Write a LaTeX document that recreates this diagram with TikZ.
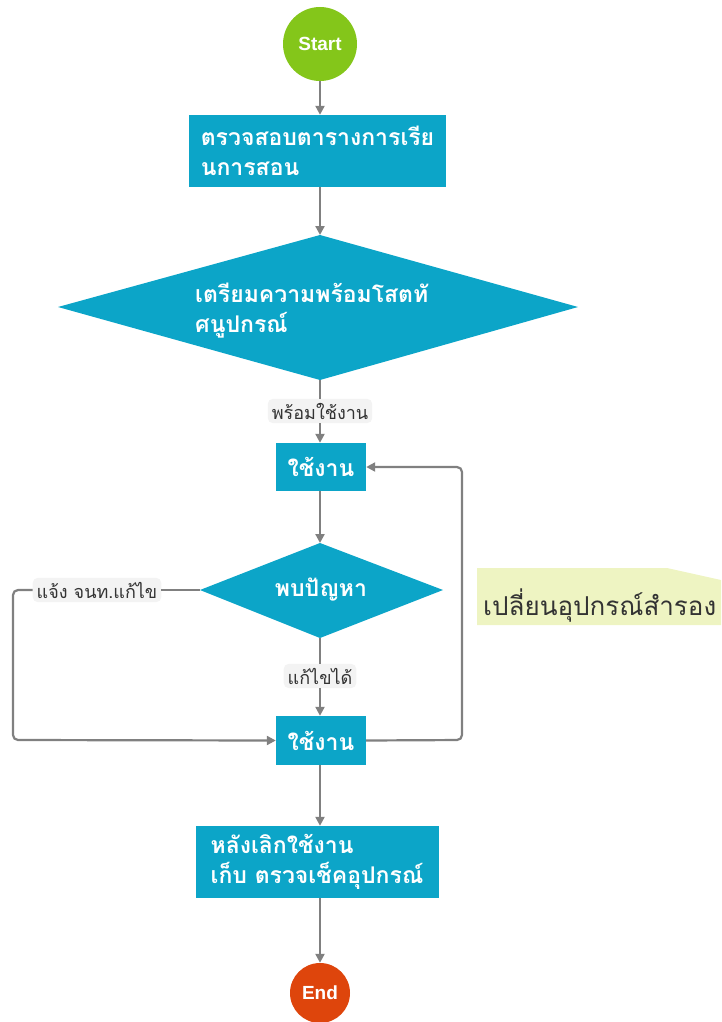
\documentclass[tikz,border=0pt]{standalone}
\usepackage{fontspec}
\usetikzlibrary{arrows.meta}
\newfontfamily\thaifont[Script=Thai]{Loma}
\newfontfamily\latinsans{Liberation Sans}
\definecolor{boxcol}{HTML}{0CA5C8}
\definecolor{startcol}{HTML}{84C61A}
\definecolor{endcol}{HTML}{DE450C}
\definecolor{linecol}{HTML}{808080}
\definecolor{labbg}{HTML}{F3F3F3}
\definecolor{notebg}{HTML}{EEF4C2}
\definecolor{notetext}{HTML}{333333}
\tikzset{
  procbox/.style={fill=boxcol, text=white, font=\thaifont\bfseries\fontsize{23}{30}\selectfont, inner sep=0pt, align=left},
  termcircle/.style={circle, text=white, font=\latinsans\bfseries\fontsize{19}{22}\selectfont, inner sep=0pt},
  edgelab/.style={fill=labbg, rounded corners=5pt, text=black!80, font=\thaifont\fontsize{18}{20}\selectfont, inner xsep=4pt, inner ysep=4pt},
  conn/.style={draw=linecol, line width=2.2pt, rounded corners=5pt},
  arr/.style={conn, -{Triangle[length=9pt,width=9pt]}},
}
\begin{document}
\begin{tikzpicture}[x=1pt,y=-1pt]
\useasboundingbox (0,0) rectangle (721,1022);
% start
\node[termcircle, fill=startcol, minimum size=74pt] (start) at (320,44) {Start};
% box1
\node[procbox, minimum width=257pt, minimum height=72pt] (box1) at (317.5,151) {ตรวจสอบตารางการเรีย\\นการสอน};
% diamond 1
\coordinate (d1t) at (320,235);
\coordinate (d1b) at (320,380);
\coordinate (d1l) at (58,307);
\coordinate (d1r) at (578,307);
\fill[boxcol] (d1l) -- (d1t) -- (d1r) -- (d1b) -- cycle;
\node[procbox, anchor=west] (d1text) at (195,311) {เตรียมความพร้อมโสตทั\\ศนูปกรณ์};
% label ready
\node[edgelab] (lab1) at (320,411) {พร้อมใช้งาน};
% use 1
\node[procbox, minimum width=90pt, minimum height=48pt, align=center] (use1) at (321,467) {ใช้งาน};
% diamond 2
\coordinate (d2t) at (320,543);
\coordinate (d2b) at (320,638);
\coordinate (d2l) at (200,590);
\coordinate (d2r) at (443,590);
\fill[boxcol] (d2l) -- (d2t) -- (d2r) -- (d2b) -- cycle;
\node[procbox, align=center] (d2text) at (321,590) {พบปัญหา};
% labels
\node[edgelab] (lab2) at (97,590) {แจ้ง จนท.แก้ไข};
\node[edgelab] (lab3) at (320,676) {แก้ไขได้};
% use 2
\node[procbox, minimum width=90pt, minimum height=49pt, align=center] (use2) at (321,740.5) {ใช้งาน};
% box3
\node[procbox, minimum width=243pt, minimum height=72pt] (box3) at (317,862) {หลังเลิกใช้งาน\\เก็บ ตรวจเช็คอุปกรณ์};
% end
\node[termcircle, fill=endcol, minimum size=60pt] (end) at (320,993) {End};
% note
\fill[notebg] (477,568) -- (667,568) -- (721,580) -- (721,625) -- (477,625) -- cycle;
\node[anchor=west, inner sep=0pt, text=notetext, font=\thaifont\fontsize{26}{30}\selectfont] (note) at (483,606) {เปลี่ยนอุปกรณ์สำรอง};
\coordinate (lt) at (13,590);
\coordinate (lb) at (13,740);
\coordinate (rb) at (462,740);
\coordinate (rt) at (462,467);
% connectors
\draw[arr] (start.south) -- (start.south |- box1.north);
\draw[arr] (start.south |- box1.south) -- (d1t);
\draw[conn] (d1b) -- (lab1.north);
\draw[arr] (lab1.south) -- (lab1.south |- use1.north);
\draw[arr] (lab1.south |- use1.south) -- (d2t);
\draw[conn] (d2l) -- (lab2.east);
\draw[arr] (lab2.west) -- (lt) -- (lb) -- (use2.west);
\draw[conn] (d2b) -- (lab3.north);
\draw[arr] (lab3.south) -- (lab3.south |- use2.north);
\draw[arr] (use2.east) -- (rb) -- (rt) -- (use1.east);
\draw[arr] (lab3.south |- use2.south) -- (lab3.south |- box3.north);
\draw[arr] (lab3.south |- box3.south) -- (end.north);
\end{tikzpicture}
\end{document}
